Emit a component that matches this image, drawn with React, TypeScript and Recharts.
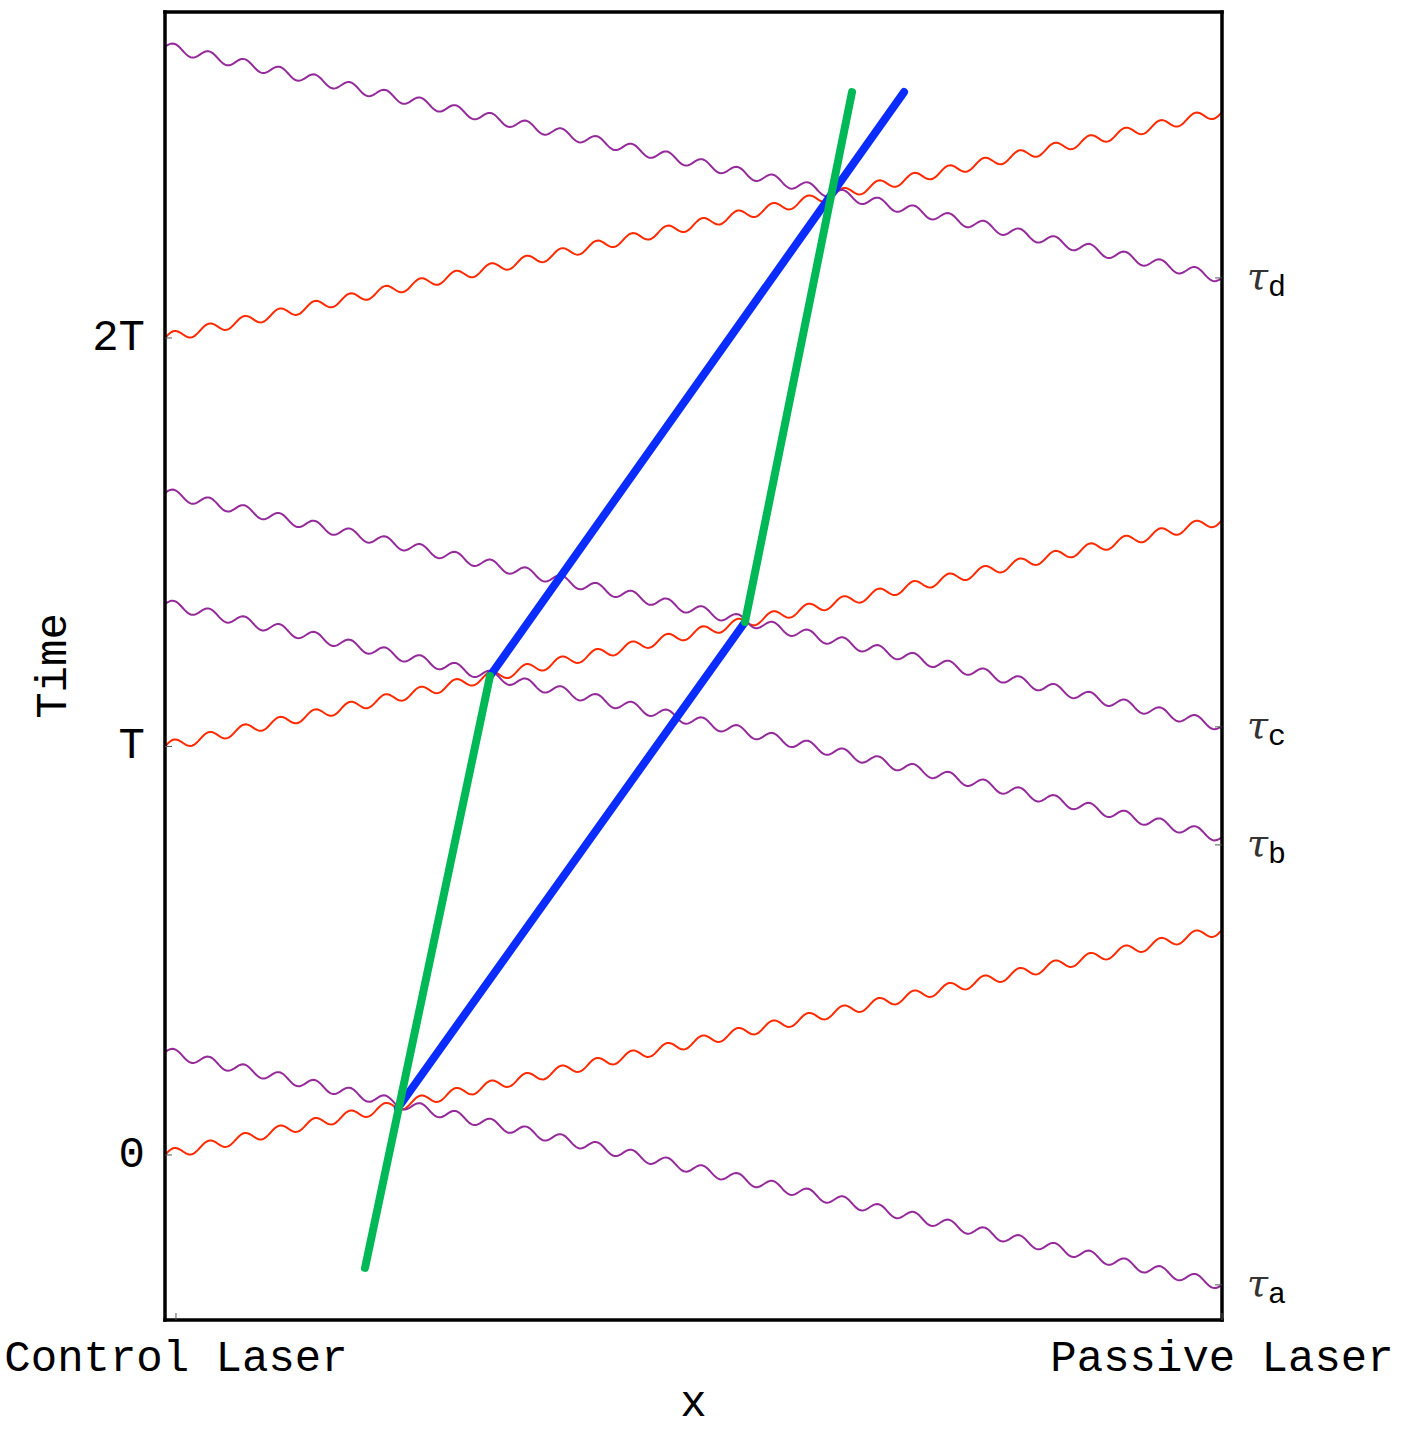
import React from 'react';
import { ComposedChart, Line, XAxis, YAxis, ReferenceLine } from 'recharts';

// axis ticks
const xTicks = [0, 1];
const xTickLabels = ['Control Laser', 'Passive Laser'];
const timeTicks = [0, 1, 2];
const timeTickLabels = ['0', 'T', '2T'];
const tauTicks = [-0.318, 0.759, 1.048, 2.147];
const tauTickLabels = ['a', 'b', 'c', 'd'];

// photon lines run edge to edge
const xLeft = -0.0105;
const xRight = 1;
const redStartY = [0, 1, 2];
const redEndY = [0.551, 1.554, 2.553];
const purpleStartY = [0.252, 1.349, 1.621, 2.713];
const purpleEndY = [-0.318, 0.778, 1.05, 2.147];

// worldlines
const blue1 = [{ x: 0.2122, y: 0.1151 }, { x: 0.544, y: 1.3048 }];
const blue2 = [{ x: 0.3002, y: 1.1726 }, { x: 0.696, y: 2.602 }];
const green1 = [{ x: 0.1807, y: -0.2766 }, { x: 0.3002, y: 1.1726 }];
const green2 = [{ x: 0.544, y: 1.3048 }, { x: 0.6463, y: 2.602 }];

const mono = '"Liberation Mono", "Courier New", monospace';
const RED = '#ff2a00';
const PURPLE = '#952a9a';
const BLUE = '#0b2cff';
const GREEN = '#00b956';

// draws the segment as a wiggle (photon style)
const Wave = (props: any) => {
  const { x1, y1, x2, y2, stroke } = props;
  const len = x2 - x1;
  const periods = Math.round(len / 35);
  const n = Math.ceil(len / 1.5);
  let d = '';
  for (let i = 0; i <= n; i++) {
    const t = i / n;
    const x = x1 + t * len;
    const y = y1 + t * (y2 - y1) - 5 * Math.sin(2 * Math.PI * periods * t);
    d += (i ? 'L' : 'M') + x.toFixed(2) + ',' + y.toFixed(2);
  }
  return <path d={d} fill="none" stroke={stroke} strokeWidth={2} />;
};

const BottomTick = (props: any) => {
  const { x, y, payload } = props;
  const label = xTickLabels[xTicks.indexOf(payload.value)];
  return (
    <g>
      <line x1={x} y1={y} x2={x} y2={y - 7} stroke="#555" strokeWidth={1} />
      <text x={x} y={y + 51} textAnchor="middle" fontFamily={mono} fontSize={44} fill="#000">
        {label}
      </text>
    </g>
  );
};

const LeftTick = (props: any) => {
  const { x, y, payload } = props;
  const label = timeTickLabels[timeTicks.indexOf(payload.value)];
  return (
    <g>
      <line x1={x} y1={y} x2={x + 7} y2={y} stroke="#555" strokeWidth={1} />
      <text x={x - 20} y={y + 12} textAnchor="end" fontFamily={mono} fontSize={44} fill="#000">
        {label}
      </text>
    </g>
  );
};

const RightTick = (props: any) => {
  const { x, y, payload } = props;
  const sub = tauTickLabels[tauTicks.indexOf(payload.value)];
  return (
    <g>
      <line x1={x} y1={y} x2={x - 7} y2={y} stroke="#555" strokeWidth={1} />
      <text
        x={x + 25}
        y={y + 11}
        fontFamily='"DejaVu Serif", serif'
        fontStyle="italic"
        fontSize={38}
        fill="#333"
      >
        τ
      </text>
      <text x={x + 46} y={y + 18} fontFamily={mono} fontSize={30} fill="#000">
        {sub}
      </text>
    </g>
  );
};

const axisLine = { stroke: '#000', strokeWidth: 3.5, strokeLinecap: 'square' as const };

export default function App() {
  return (
    <div style={{ position: 'absolute', left: 0, top: 0, background: '#fff' }}>
      <ComposedChart width={1403} height={1429} margin={{ top: 11, right: 0, bottom: 0, left: 0 }}>
        <XAxis
          dataKey="x"
          type="number"
          domain={[xLeft, xRight]}
          allowDataOverflow
          ticks={xTicks}
          height={109}
          tickSize={0}
          tickMargin={0}
          tickLine={false}
          axisLine={axisLine}
          tick={<BottomTick />}
          label={{
            value: 'x',
            content: (p: any) => (
              <text
                x={p.viewBox.x + p.viewBox.width / 2}
                y={p.viewBox.y + 96}
                textAnchor="middle"
                fontFamily={mono}
                fontSize={44}
                fill="#000"
              >
                x
              </text>
            ),
          }}
        />
        <XAxis
          xAxisId="top"
          orientation="top"
          type="number"
          domain={[xLeft, xRight]}
          allowDataOverflow
          height={1}
          tickSize={0}
          tick={false}
          tickLine={false}
          axisLine={axisLine}
        />
        <YAxis
          yAxisId="left"
          type="number"
          domain={[-0.404, 2.798]}
          allowDataOverflow
          ticks={timeTicks}
          width={165}
          tickSize={0}
          tickMargin={0}
          tickLine={false}
          axisLine={axisLine}
          tick={<LeftTick />}
          label={{
            value: 'Time',
            content: (p: any) => {
              const cx = p.viewBox.x + 66;
              const cy = p.viewBox.y + p.viewBox.height / 2;
              return (
                <text
                  x={cx}
                  y={cy}
                  transform={`rotate(-90, ${cx}, ${cy})`}
                  textAnchor="middle"
                  fontFamily={mono}
                  fontSize={44}
                  fill="#000"
                >
                  Time
                </text>
              );
            },
          }}
        />
        <YAxis
          yAxisId="right"
          orientation="right"
          type="number"
          domain={[-0.404, 2.798]}
          allowDataOverflow
          ticks={tauTicks}
          width={181}
          tickSize={0}
          tickMargin={0}
          tickLine={false}
          axisLine={axisLine}
          tick={<RightTick />}
        />

        {redStartY.map((y, i) => (
          <ReferenceLine
            key={'r' + i}
            yAxisId="left"
            ifOverflow="visible"
            segment={[{ x: xLeft, y }, { x: xRight, y: redEndY[i] }]}
            stroke={RED}
            shape={<Wave />}
          />
        ))}
        {purpleStartY.map((y, i) => (
          <ReferenceLine
            key={'p' + i}
            yAxisId="left"
            ifOverflow="visible"
            segment={[{ x: xLeft, y }, { x: xRight, y: purpleEndY[i] }]}
            stroke={PURPLE}
            shape={<Wave />}
          />
        ))}

        {[blue1, blue2].map((seg, i) => (
          <Line
            key={'b' + i}
            yAxisId="left"
            data={seg}
            dataKey="y"
            stroke={BLUE}
            strokeWidth={8}
            strokeLinecap="round"
            dot={false}
            activeDot={false}
            isAnimationActive={false}
          />
        ))}
        {[green1, green2].map((seg, i) => (
          <Line
            key={'g' + i}
            yAxisId="left"
            data={seg}
            dataKey="y"
            stroke={GREEN}
            strokeWidth={8}
            strokeLinecap="round"
            dot={false}
            activeDot={false}
            isAnimationActive={false}
          />
        ))}
      </ComposedChart>
    </div>
  );
}
